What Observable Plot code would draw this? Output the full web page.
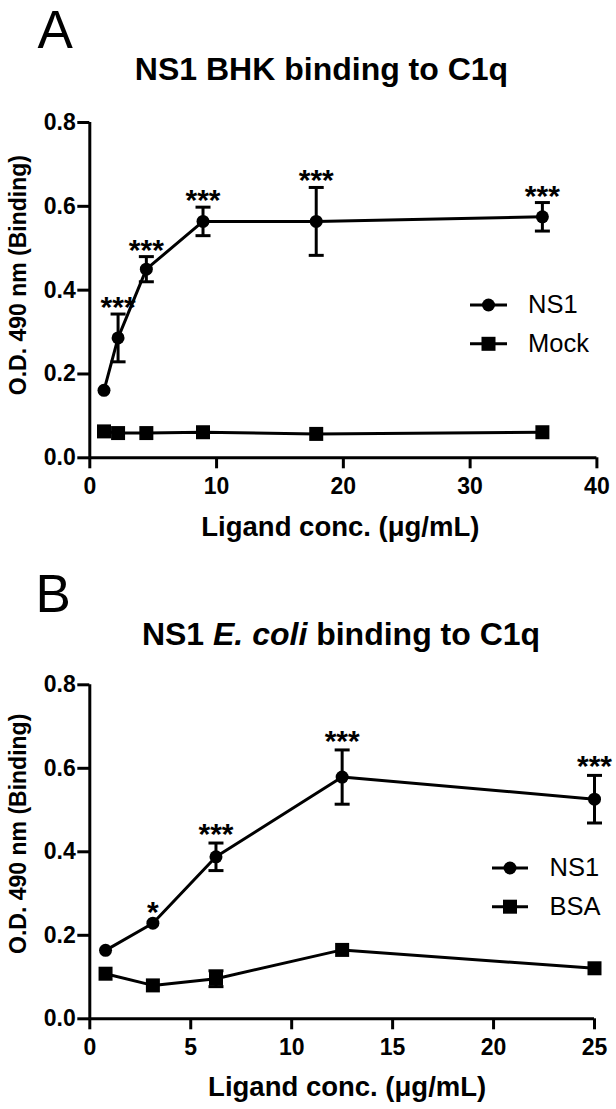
<!DOCTYPE html>
<html>
<head>
<meta charset="utf-8">
<script src="https://cdn.jsdelivr.net/npm/d3@7"></script>
<script src="https://cdn.jsdelivr.net/npm/@observablehq/plot@0.6"></script>
<style>
  html, body { margin: 0; padding: 0; background: #fff; overflow: hidden; }
  #page { position: relative; width: 616px; height: 1109px; background: #fff;
          font-family: "Liberation Sans", Arial, Helvetica, sans-serif; color: #000; }
  .panel { position: absolute; left: 0; z-index: 1; }
  .letter { position: absolute; z-index: 3; font-size: 53px; line-height: 53px; font-weight: normal; }
  .title { position: absolute; z-index: 3; font-size: 32px; line-height: 32px; font-weight: bold;
           white-space: nowrap; transform: translateX(-50%); }
  #legend { position: absolute; left: 0; top: 0; z-index: 2; pointer-events: none; }
</style>
</head>
<body>
<div id="page">
  <div id="panelA" class="panel" style="top:0px;"></div>
  <div id="panelB" class="panel" style="top:555px;"></div>
  <div class="letter" style="left:37.5px; top:3px;">A</div>
  <div class="title" style="left:321.5px; top:53px;">NS1 BHK binding to C1q</div>
  <div class="letter" style="left:35.5px; top:567px;">B</div>
  <div class="title" style="left:341px; top:618px;">NS1 <i>E. coli</i> binding to C1q</div>
</div>
<script>
// ---------- data ----------
const yTicks = [0, 0.2, 0.4, 0.6, 0.8];

// Panel A: NS1 (BHK) vs Mock
const concA   = [1.12, 2.23, 4.46, 8.93, 17.86, 35.7];
const ns1A    = [0.161, 0.286, 0.450, 0.564, 0.564, 0.575];
const ns1ASem = [0.004, 0.057, 0.030, 0.034, 0.081, 0.034];
const mockA   = [0.063, 0.059, 0.059, 0.061, 0.057, 0.061];
const mockASem= [0.003, 0.003, 0.003, 0.003, 0.003, 0.003];
const starsA  = ["", "***", "***", "***", "***", "***"];
const xTicksA = [0, 10, 20, 30, 40];

// Panel B: NS1 (E. coli) vs BSA
const concB   = [0.78, 3.125, 6.25, 12.5, 25];
const ns1B    = [0.164, 0.229, 0.388, 0.579, 0.526];
const ns1BSem = [0.004, 0.006, 0.033, 0.065, 0.057];
const bsaB    = [0.108, 0.080, 0.096, 0.165, 0.121];
const bsaBSem = [0.004, 0.004, 0.019, 0.005, 0.004];
const starsB  = ["", "*", "***", "***", "***"];
const xTicksB = [0, 5, 10, 15, 20, 25];

const yLabel = "O.D. 490 nm (Binding)";
const xLabel = "Ligand conc. (\u03bcg/mL)";

// ---------- drawing ----------
const FONT = '"Liberation Sans", Arial, Helvetica, sans-serif';
const capSymbol = { draw(ctx) { ctx.moveTo(-7.5, 0); ctx.lineTo(7.5, 0); } };

function rows(xs, ys, sems, stars) {
  return xs.map((x, i) => ({ x, y: ys[i], sem: sems[i], star: stars ? stars[i] : "" }));
}

function panel(cfg) {
  const a = rows(cfg.conc, cfg.ns1, cfg.ns1Sem, cfg.stars);
  const b = rows(cfg.conc, cfg.ctrl, cfg.ctrlSem);
  const all = a.concat(b);
  const withErr = all.filter(d => d.sem >= 0.015);
  return Plot.plot({
    width: 616,
    height: cfg.height,
    marginLeft: 89.3,
    marginRight: cfg.marginRight,
    marginTop: cfg.marginTop,
    marginBottom: cfg.marginBottom,
    style: { fontFamily: FONT, fontSize: "23px", fontWeight: "bold", background: "transparent", color: "#000", overflow: "visible" },
    x: { domain: cfg.xDomain, label: null },
    y: { domain: [0, 0.8], label: null },
    marks: [
      Plot.axisX({ ticks: cfg.xTicks, tickSize: 11, tickPadding: 9, strokeWidth: 3, label: null, fontSize: 23 }),
      Plot.axisY({ ticks: yTicks, tickSize: 12, tickPadding: 2, strokeWidth: 3, tickFormat: ".1f", label: null, fontSize: 23 }),
      Plot.ruleX([0], { y1: 0, y2: 0.8, strokeWidth: 3 }),
      Plot.ruleY([0], { x1: cfg.xDomain[0], x2: cfg.xDomain[1], strokeWidth: 3 }),
      Plot.line(a, { x: "x", y: "y", stroke: "#000", strokeWidth: 3 }),
      Plot.line(b, { x: "x", y: "y", stroke: "#000", strokeWidth: 3 }),
      Plot.ruleX(withErr, { x: "x", y1: d => d.y - d.sem, y2: d => d.y + d.sem, stroke: "#000", strokeWidth: 3 }),
      Plot.dot(withErr, { x: "x", y: d => d.y + d.sem, symbol: capSymbol, fill: "none", stroke: "#000", strokeWidth: 3 }),
      Plot.dot(withErr, { x: "x", y: d => d.y - d.sem, symbol: capSymbol, fill: "none", stroke: "#000", strokeWidth: 3 }),
      Plot.dot(a, { x: "x", y: "y", r: 6.5, fill: "#000", stroke: "none" }),
      Plot.dot(b, { x: "x", y: "y", symbol: "square", r: 7.9, fill: "#000", stroke: "none" }),
      Plot.text(a.filter(d => d.star), { x: "x", y: d => Math.max(d.y + d.sem, d.y + 0.006), text: "star",
        lineAnchor: "bottom", dy: cfg.starDy, fontSize: 30, fontWeight: "bold" }),
      Plot.text([yLabel], { text: d => d, frameAnchor: "left", rotate: -90, lineAnchor: "bottom", textAnchor: "middle",
        dx: -64.3, dy: cfg.yLabelDy, fontSize: 23, fontWeight: "bold" }),
      Plot.text([xLabel], { text: d => d, frameAnchor: "bottom", lineAnchor: "bottom", textAnchor: "middle",
        dx: cfg.xLabelDx, dy: cfg.xLabelDy, fontSize: 27.5, fontWeight: "bold" })
    ]
  });
}

document.getElementById("panelA").append(panel({
  conc: concA, ns1: ns1A, ns1Sem: ns1ASem, ctrl: mockA, ctrlSem: mockASem, stars: starsA,
  xDomain: [0, 40], xTicks: xTicksA,
  height: 555, marginTop: 122, marginBottom: 97.7, marginRight: 19.6,
  starDy: 3, yLabelDy: -15, xLabelDx: -3, xLabelDy: 77.7
}));

document.getElementById("panelB").append(panel({
  conc: concB, ns1: ns1B, ns1Sem: ns1BSem, ctrl: bsaB, ctrlSem: bsaBSem, stars: starsB,
  xDomain: [0, 25], xTicks: xTicksB,
  height: 554, marginTop: 129.3, marginBottom: 90.7, marginRight: 22,
  starDy: 1, yLabelDy: -18, xLabelDx: 5, xLabelDy: 76.7
}));

// ---------- legends ----------
const legendA = [{ label: "NS1", symbol: "circle" }, { label: "Mock", symbol: "square" }];
const legendB = [{ label: "NS1", symbol: "circle" }, { label: "BSA", symbol: "square" }];

const svg = d3.select("#page").append("svg").attr("id", "legend").attr("width", 616).attr("height", 1109);
function legend(items, x1, x2, tx, ys) {
  items.forEach((it, i) => {
    const g = svg.append("g");
    const y = ys[i], cx = (x1 + x2) / 2;
    g.append("line").attr("x1", x1).attr("x2", x2).attr("y1", y).attr("y2", y)
      .attr("stroke", "#000").attr("stroke-width", 3);
    if (it.symbol === "circle") g.append("circle").attr("cx", cx).attr("cy", y).attr("r", 6.5).attr("fill", "#000");
    else g.append("rect").attr("x", cx - 7).attr("y", y - 7).attr("width", 14).attr("height", 14).attr("fill", "#000");
    g.append("text").attr("x", tx).attr("y", y).attr("dy", "0.33em").attr("font-family", FONT)
      .attr("font-size", 25.5).attr("fill", "#000").text(it.label);
  });
}
legend(legendA, 470, 507, 528, [305, 343.8]);
legend(legendB, 492, 528, 549.6, [868, 906.7]);
</script>
</body>
</html>
